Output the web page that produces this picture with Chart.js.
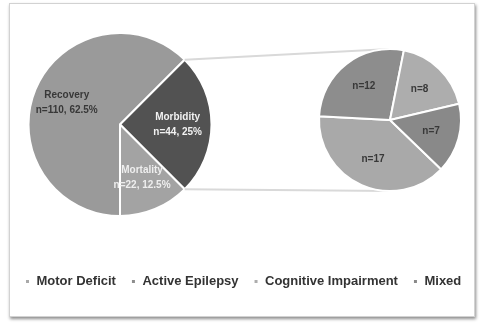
<!DOCTYPE html>
<html>
<head>
<meta charset="utf-8">
<script src="https://cdn.jsdelivr.net/npm/chart.js@4"></script>
<style>
  body { margin: 0; background: #fff; }
  #frame {
    position: absolute; left: 9px; top: 3px; width: 464px; height: 312px;
    border: 1px solid #d2d2d2; box-shadow: 1px 2px 3px rgba(0,0,0,0.45);
    overflow: hidden; background: #fff;
  }
  #main, #detail { position: absolute; left: 0; top: 0; }
</style>
</head>
<body>
<div id="frame">
  <canvas id="main" width="220" height="230"></canvas>
  <canvas id="detail" width="760" height="312"></canvas>
</div>
<script>
// main pie (outcome)
const mainLabels = ['Recovery', 'Morbidity', 'Mortality'];
const mainCounts = [110, 44, 22];
const mainPercents = ['62.5%', '25%', '12.5%'];
const mainColors = ['#9a9a9a', '#525252', '#a3a3a3'];
const mainTextColors = ['#383838', '#f2f2f2', '#eeeeee'];

// second pie (breakdown of morbidity)
const detailLabels = ['Motor Deficit', 'Active Epilepsy', 'Cognitive Impairment', 'Mixed'];
const detailCounts = [17, 12, 8, 7];
const detailColors = ['#a9a9a9', '#8d8d8d', '#adadad', '#898989'];

// writes text lines in the middle of each slice
const sliceLabels = {
  id: 'sliceLabels',
  afterDatasetsDraw(chart, args, opts) {
    const ctx = chart.ctx;
    chart.getDatasetMeta(0).data.forEach((arc, i) => {
      const mid = (arc.startAngle + arc.endAngle) / 2;
      const d = arc.outerRadius * opts.distance;
      const x = arc.x + d * Math.cos(mid);
      const y = arc.y + d * Math.sin(mid);
      const lines = opts.lines[i];
      ctx.save();
      ctx.font = opts.font;
      ctx.fillStyle = opts.colors[i];
      ctx.textAlign = 'center';
      ctx.textBaseline = 'middle';
      lines.forEach((t, j) => {
        ctx.fillText(t, x, y + (j - (lines.length - 1) / 2) * opts.lineHeight);
      });
      ctx.restore();
    });
  }
};

const mainChart = new Chart(document.getElementById('main'), {
  type: 'pie',
  data: {
    labels: mainLabels,
    datasets: [{
      data: mainCounts,
      backgroundColor: mainColors,
      borderColor: '#ffffff',
      borderWidth: 2
    }]
  },
  options: {
    responsive: false,
    animation: false,
    rotation: 180,
    layout: { padding: { top: 28, bottom: 17, left: 0, right: 0 } },
    plugins: {
      legend: { display: false },
      tooltip: { enabled: false },
      sliceLabels: {
        lines: mainLabels.map((l, i) => [l, 'n=' + mainCounts[i] + ', ' + mainPercents[i]]),
        colors: mainTextColors,
        font: 'bold 10px "Liberation Sans", Arial, sans-serif',
        lineHeight: 15,
        distance: 0.63
      }
    }
  },
  plugins: [sliceLabels]
});

// lines joining the morbidity slice to the second pie
const connectors = {
  id: 'connectors',
  beforeDatasetsDraw(chart) {
    const src = mainChart.getDatasetMeta(0).data[1];
    const dst = chart.getDatasetMeta(0).data[0];
    const ctx = chart.ctx;
    ctx.save();
    ctx.strokeStyle = '#d9d9d9';
    ctx.lineWidth = 2;
    [[src.startAngle, -1], [src.endAngle, 1]].forEach(([a, s]) => {
      ctx.beginPath();
      ctx.moveTo(src.x + src.outerRadius * Math.cos(a), src.y + src.outerRadius * Math.sin(a));
      ctx.lineTo(dst.x, dst.y + s * dst.outerRadius);
      ctx.stroke();
    });
    ctx.restore();
  }
};

new Chart(document.getElementById('detail'), {
  type: 'pie',
  data: {
    labels: detailLabels,
    datasets: [{
      data: detailCounts,
      backgroundColor: detailColors,
      borderColor: '#ffffff',
      borderWidth: 2
    }]
  },
  options: {
    responsive: false,
    animation: false,
    rotation: 134,
    layout: { padding: { top: 44, bottom: 18, left: 0, right: 0 } },
    plugins: {
      tooltip: { enabled: false },
      legend: {
        position: 'bottom',
        align: 'start',
        title: { display: true, text: '', font: { size: 10 }, padding: { top: 56, bottom: 0 } },
        labels: {
          boxWidth: 5,
          boxHeight: 5,
          padding: 15,
          color: '#333333',
          font: { family: '"Liberation Sans", Arial, sans-serif', size: 13, weight: 'bold' }
        }
      },
      sliceLabels: {
        lines: detailCounts.map(c => ['n=' + c]),
        colors: detailCounts.map(() => '#383838'),
        font: 'bold 10px "Liberation Sans", Arial, sans-serif',
        lineHeight: 12,
        distance: 0.6
      }
    }
  },
  plugins: [connectors, sliceLabels]
});
</script>
</body>
</html>
